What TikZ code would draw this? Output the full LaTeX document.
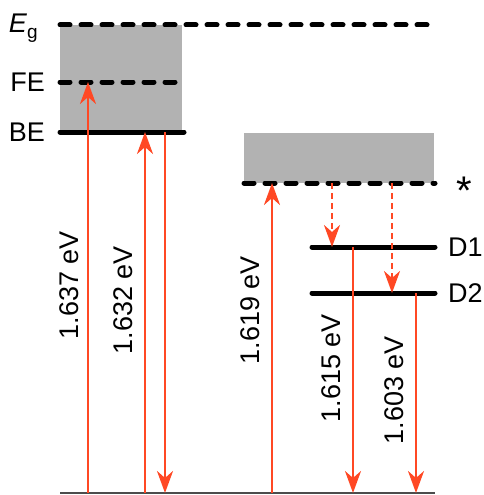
\documentclass[tikz,border=0pt]{standalone}
\usepackage{fontspec}
\setmainfont{Liberation Sans}
\usetikzlibrary{arrows.meta}
\definecolor{photon}{RGB}{255,72,36}
\tikzset{
  level/.style={line width=5pt, line cap=round},
  dlevel/.style={level, dash pattern=on 10pt off 11pt},
  trans/.style={draw=photon, line width=2.5pt, -{Stealth[length=22pt,width=16pt,inset=7pt]}},
  relax/.style={trans, dash pattern=on 6pt off 4pt},
  elabel/.style={rotate=90, inner sep=0pt, font=\fontsize{27}{30}\selectfont},
  lname/.style={inner sep=0pt, font=\fontsize{27}{30}\selectfont},
}
\begin{document}
\begin{tikzpicture}[x=1pt, y=-1pt]
    \useasboundingbox (0,0) rectangle (483,495);

    % 能级高度
    \coordinate (Eg) at (0,25);
    \coordinate (FE) at (0,82);
    \coordinate (BE) at (0,132);
    \coordinate (star) at (0,183);
    \coordinate (D1) at (0,247);
    \coordinate (D2) at (0,293);
    \coordinate (base) at (0,493);

    % 跃迁位置
    \coordinate (a1) at (88,0);
    \coordinate (a2) at (145,0);
    \coordinate (a3) at (165,0);
    \coordinate (a4) at (272,0);
    \coordinate (r1) at (332,0);
    \coordinate (r2) at (392,0);
    \coordinate (a5) at (353,0);
    \coordinate (a6) at (416,0);

    % 灰色区域
    \fill[gray!60] (60,25) rectangle (182,132);
    \fill[gray!60] (244,133) rectangle (434,183);

    % 能级
    \draw[dlevel] (60,25) -- (435,25);
    \draw[dlevel] (60,82) -- (182,82);
    \draw[level] (60,132) -- (184,132);
    \draw[dlevel] (244,183) -- (435,183);
    \draw[level] (312,247) -- (435,247);
    \draw[level] (312,293) -- (435,293);
    \draw[line width=1.5pt, black!70] (60,493) -- (435,493);

    \node[lname, anchor=east] (lEg) at (38,28) {\textit{E}\raisebox{-0.45ex}{\fontsize{19}{20}\selectfont g}};
    \node[lname, anchor=east] (lFE) at (45,82) {FE};
    \node[lname, anchor=east] (lBE) at (45,132) {BE};
    \node[lname, anchor=north, font=\fontsize{40}{40}\selectfont] (lstar) at (464,177) {*};
    \node[lname, anchor=west] (lD1) at (448,247) {D1};
    \node[lname, anchor=west] (lD2) at (448,293) {D2};

    % 跃迁
    \draw[trans] (a1 |- base) -- (a1 |- FE);
    \draw[trans] (a2 |- base) -- (a2 |- BE);
    \draw[trans] (a3 |- BE) -- (a3 |- base);
    \draw[trans] (a4 |- base) -- (a4 |- star);
    \draw[relax] (r1 |- star) -- (r1 |- D1);
    \draw[relax] (r2 |- star) -- (r2 |- D2);
    \draw[trans] (a5 |- D1) -- (a5 |- base);
    \draw[trans] (a6 |- D2) -- (a6 |- base);

    \node[elabel] (e1) at (69,285) {1.637 eV};
    \node[elabel] (e2) at (123,300) {1.632 eV};
    \node[elabel] (e3) at (250,310) {1.619 eV};
    \node[elabel] (e4) at (331,368) {1.615 eV};
    \node[elabel] (e5) at (394,390) {1.603 eV};
\end{tikzpicture}
\end{document}
